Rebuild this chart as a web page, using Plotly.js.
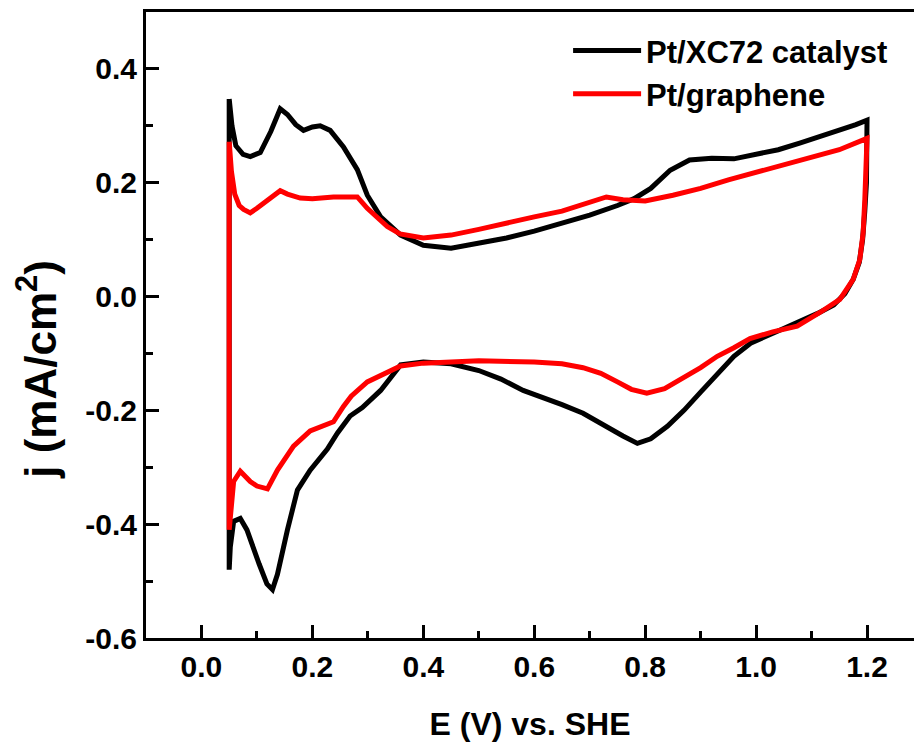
<!DOCTYPE html>
<html>
<head>
<meta charset="utf-8">
<script src="https://cdn.plot.ly/plotly-3.0.1.min.js"></script>
<style>
  html, body { margin: 0; padding: 0; background: #ffffff; }
  #chart { width: 914px; height: 744px; }
</style>
</head>
<body>
<div id="chart"></div>
<script>
// Cyclic voltammograms: anodic sweep 0.05 -> 1.2 V, cathodic sweep back to 0.05 V.
const seriesNames = ['Pt/XC72 catalyst', 'Pt/graphene'];

// Pt/XC72 catalyst
const xc72E = [
  0.05, 0.055, 0.062, 0.075, 0.088, 0.106, 0.125, 0.142, 0.155, 0.170, 0.184, 0.20, 0.214, 0.232,
  0.256, 0.281, 0.299, 0.323, 0.359, 0.40, 0.45, 0.50, 0.55, 0.60, 0.65, 0.70, 0.75, 0.78, 0.81,
  0.845, 0.88, 0.92, 0.96, 1.00, 1.04, 1.08, 1.14, 1.18, 1.2,
  1.199, 1.196, 1.192, 1.186, 1.175, 1.16, 1.14, 1.11, 1.07, 1.03, 0.99, 0.96, 0.93, 0.90, 0.87,
  0.84, 0.81, 0.786, 0.76, 0.72, 0.688, 0.65, 0.62, 0.58, 0.54, 0.50, 0.45, 0.40, 0.359, 0.323,
  0.29, 0.268, 0.245, 0.227, 0.196, 0.173, 0.155, 0.137, 0.128, 0.118, 0.104, 0.094, 0.082, 0.070,
  0.058, 0.052, 0.05, 0.05
];
const xc72J = [
  0.347, 0.30, 0.265, 0.25, 0.246, 0.253, 0.29, 0.33, 0.32, 0.302, 0.292, 0.298, 0.300, 0.292,
  0.263, 0.223, 0.178, 0.14, 0.108, 0.09, 0.085, 0.093, 0.103, 0.115, 0.128, 0.143, 0.16, 0.172, 0.19,
  0.222, 0.24, 0.243, 0.242, 0.25, 0.258, 0.27, 0.288, 0.302, 0.31,
  0.2, 0.15, 0.10, 0.06, 0.03, 0.005, -0.015, -0.03, -0.048, -0.065, -0.082, -0.105, -0.135, -0.168, -0.2,
  -0.228, -0.25, -0.258, -0.245, -0.222, -0.205, -0.19, -0.18, -0.165, -0.145, -0.13, -0.118, -0.115, -0.12, -0.165,
  -0.195, -0.21, -0.24, -0.268, -0.305, -0.34, -0.41, -0.488, -0.515, -0.505, -0.47, -0.44, -0.41, -0.39,
  -0.395, -0.44, -0.48, 0.347
];

// Pt/graphene
const grapheneE = [
  0.05, 0.054, 0.06, 0.068, 0.076, 0.088, 0.10, 0.12, 0.142, 0.155, 0.178, 0.20, 0.238, 0.281,
  0.299, 0.335, 0.358, 0.40, 0.45, 0.50, 0.55, 0.60, 0.65, 0.70, 0.73, 0.76, 0.80, 0.85, 0.90,
  0.95, 1.00, 1.05, 1.10, 1.15, 1.2,
  1.199, 1.196, 1.193, 1.187, 1.175, 1.151, 1.115, 1.074, 1.03, 0.989, 0.96, 0.93, 0.90, 0.868,
  0.835, 0.803, 0.775, 0.75, 0.72, 0.688, 0.65, 0.60, 0.55, 0.50, 0.45, 0.40, 0.359, 0.33, 0.299,
  0.27, 0.256, 0.238, 0.215, 0.196, 0.166, 0.137, 0.119, 0.100, 0.088, 0.070, 0.058, 0.05, 0.05
];
const grapheneJ = [
  0.272, 0.22, 0.18, 0.16, 0.153, 0.147, 0.155, 0.17, 0.186, 0.18, 0.173, 0.172, 0.175, 0.175,
  0.155, 0.123, 0.11, 0.103, 0.108, 0.118, 0.13, 0.14, 0.15, 0.165, 0.175, 0.17, 0.168, 0.178, 0.19,
  0.205, 0.218, 0.23, 0.243, 0.258, 0.278,
  0.22, 0.17, 0.112, 0.065, 0.03, -0.005, -0.028, -0.052, -0.062, -0.074, -0.09, -0.105, -0.125, -0.142,
  -0.162, -0.17, -0.163, -0.15, -0.135, -0.125, -0.118, -0.115, -0.113, -0.113, -0.115, -0.117, -0.122, -0.135, -0.15,
  -0.175, -0.193, -0.22, -0.23, -0.236, -0.263, -0.305, -0.338, -0.333, -0.325, -0.307, -0.325, -0.41, 0.272
];

// Axis ticks
const xTickVals = [0.0, 0.2, 0.4, 0.6, 0.8, 1.0, 1.2];
const xTickText = ['0.0', '0.2', '0.4', '0.6', '0.8', '1.0', '1.2'];
const yTickVals = [-0.6, -0.4, -0.2, 0.0, 0.2, 0.4];
const yTickText = ['-0.6', '-0.4', '-0.2', '0.0', '0.2', '0.4'];

const family = '"Liberation Sans", Arial, sans-serif';
const sz = { tick: 30, xtitle: 32, legend: 31, ytitle: 44 };

const traces = [
  { x: xc72E, y: xc72J, name: seriesNames[0], type: 'scatter', mode: 'lines',
    line: { color: '#000000', width: 5 } },
  { x: grapheneE, y: grapheneJ, name: seriesNames[1], type: 'scatter', mode: 'lines',
    line: { color: '#ff0000', width: 5 } }
];

const layout = {
  width: 914,
  height: 744,
  margin: { l: 146, r: 0, t: 12, b: 106 },
  paper_bgcolor: '#ffffff',
  plot_bgcolor: '#ffffff',
  font: { family: family, color: '#000000', size: sz.tick, weight: 'bold' },
  showlegend: true,
  legend: {
    x: 0.5496, y: 0.981, xanchor: 'left', yanchor: 'top',
    bgcolor: 'rgba(0,0,0,0)', borderwidth: 0,
    itemwidth: 68,
    font: { family: family, size: sz.legend, color: '#000000', weight: 'bold' },
    tracegroupgap: 0
  },
  xaxis: {
    range: [-0.1, 1.2847],
    showgrid: false, zeroline: false,
    showline: true, linecolor: '#000000', linewidth: 3, mirror: true,
    ticks: 'inside', ticklen: 13, tickwidth: 3, tickcolor: '#000000',
    tickmode: 'array', tickvals: xTickVals, ticktext: xTickText,
    tickfont: { family: family, size: sz.tick, color: '#000000', weight: 'bold' },
    minor: { dtick: 0.1, tick0: 0, ticks: 'inside', ticklen: 7, tickwidth: 3, tickcolor: '#000000' },
    title: { text: 'E (V) vs. SHE', standoff: 31,
             font: { family: family, size: sz.xtitle, color: '#000000', weight: 'bold' } }
  },
  yaxis: {
    range: [-0.6, 0.5],
    showgrid: false, zeroline: false,
    showline: true, linecolor: '#000000', linewidth: 3, mirror: false,
    ticks: 'inside', ticklen: 13, tickwidth: 3, tickcolor: '#000000',
    tickmode: 'array', tickvals: yTickVals, ticktext: yTickText,
    tickfont: { family: family, size: sz.tick, color: '#000000', weight: 'bold' },
    minor: { dtick: 0.1, tick0: 0, ticks: 'inside', ticklen: 7, tickwidth: 3, tickcolor: '#000000' }
  },
  annotations: [{
    text: 'j (mA/cm<sup>2</sup>)',
    xref: 'paper', yref: 'paper',
    x: -0.142, y: 0.43, xanchor: 'center', yanchor: 'middle',
    textangle: -90, showarrow: false,
    font: { family: family, size: sz.ytitle, color: '#000000', weight: 'bold' }
  }]
};

Plotly.newPlot('chart', traces, layout, { staticPlot: true, displayModeBar: false });
</script>
</body>
</html>
